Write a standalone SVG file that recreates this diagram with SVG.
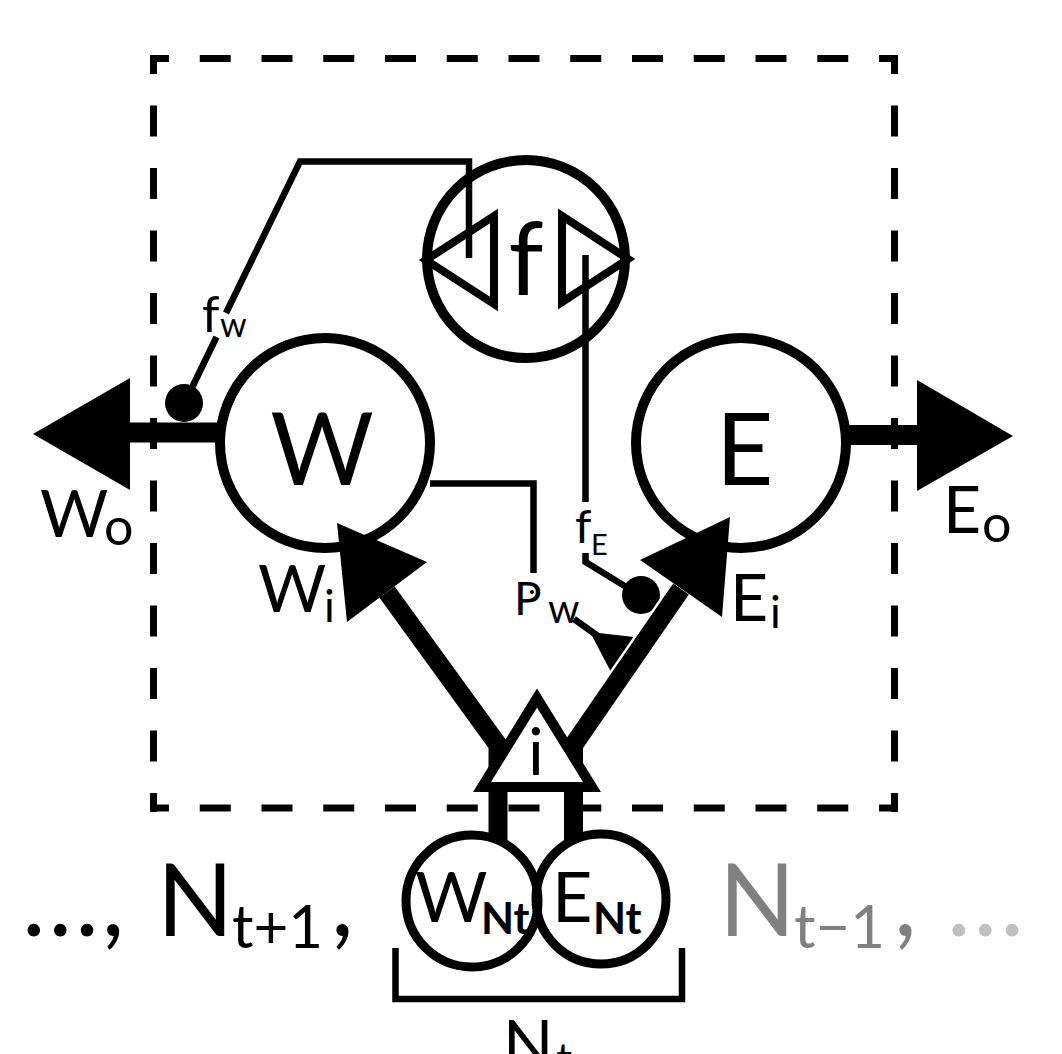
<svg xmlns="http://www.w3.org/2000/svg" width="1062" height="1054" viewBox="0 0 1062 1054">
<style>
  text { font-family: Lato, "Open Sans", "Liberation Sans", sans-serif; fill: #000; }
  .ring { fill: #fff; stroke: #000; stroke-width: 10; }
  .ring2 { fill: none; stroke: #000; stroke-width: 9; }
  .thin { fill: none; stroke: #000; stroke-width: 6.5; stroke-linejoin: miter; }
  .thick { fill: none; stroke: #000; stroke-linejoin: miter; }
  .dashH { stroke: #000; stroke-width: 7; stroke-dasharray: 31 30.75; stroke-dashoffset: 12; }
  .dashV { stroke: #000; stroke-width: 7; stroke-dasharray: 31 31.5; stroke-dashoffset: 12; }
  .head { fill: #000; }
  .bold { font-weight: bold; }
  .gray { fill: #808080; }
  .light { fill: #bfbfbf; }
</style>
<rect width="1062" height="1054" fill="#fff"/>

<g id="boundary">
  <line class="dashH" x1="150" y1="58.5" x2="898" y2="58.5"/>
  <line class="dashH" x1="150" y1="808" x2="898" y2="808"/>
  <line class="dashV" x1="153.5" y1="55" x2="153.5" y2="812"/>
  <line class="dashV" x1="894.5" y1="55" x2="894.5" y2="812"/>
</g>

<g id="node-W"><circle class="ring" cx="325" cy="443" r="105"/></g>
<g id="node-E"><circle class="ring" cx="741" cy="443" r="105"/></g>
<g id="node-f">
  <circle class="ring" cx="526" cy="259" r="99"/>
  <polygon points="426,260 494,216 494,304" fill="none" stroke="#000" stroke-width="8"/>
  <polygon points="562,216 562,302 628,259" fill="none" stroke="#000" stroke-width="8"/>
</g>

<g id="connectors">
  <!-- W_o -->
  <line x1="128" y1="432.5" x2="218" y2="432.5" stroke="#000" stroke-width="20"/>
  <polygon class="head" points="33,434 130,378 130,490"/>
  <!-- E_o -->
  <line x1="848" y1="435" x2="919" y2="435" stroke="#000" stroke-width="20"/>
  <polygon class="head" points="1013,436 917,380 917,491"/>
  <!-- f_w -->
  <polyline class="thin" points="469,258 469,161.5 300,161.5 226,313"/>
  <line class="thin" x1="216.5" y1="337" x2="186" y2="400"/>
  <circle class="head" cx="184" cy="403" r="19"/>
  <!-- f_E -->
  <line class="thin" x1="585.5" y1="255" x2="585.5" y2="502"/>
  <polyline class="thin" points="585.5,553 585.5,562 641,596"/>
  <circle class="head" cx="641" cy="595" r="19"/>
  <!-- P_w -->
  <polyline class="thin" points="430,483.5 533.5,483.5 533.5,573"/>
  <circle class="head" cx="532" cy="592" r="2"/>
  <line class="thin" x1="574" y1="619" x2="602" y2="639"/>
  <polygon class="head" points="590,632 634,637 611,672"/>
  <!-- W_i -->
  <path class="thick" d="M498,840 V745 L387,592" stroke-width="19"/>
  <polygon class="head" points="337,523 427,562 347,622"/>
  <!-- E_i -->
  <path d="M573.5,745 L681,589" fill="none" stroke="#fff" stroke-width="24"/>
  <path class="thick" d="M573.5,840 V745 L681,589" stroke-width="19"/>
  <polygon class="head" points="730,517 640,560 722,617"/>
  <!-- N_t bracket -->
  <polyline class="thin" stroke-width="7.5" points="395.5,948 395.5,999 682,999 682,948"/>
</g>

<g id="node-i">
  <polygon points="537,698 482,787 592,787" fill="#fff" stroke="#000" stroke-width="10"/>
  <text x="536" y="775" font-size="66" text-anchor="middle">i</text>
</g>
<g id="node-WNt">
  <circle class="ring2" cx="472" cy="901" r="66"/>
  <text x="415" y="922" font-size="70">W</text>
  <text x="481" y="934" font-size="43" class="bold">Nt</text>
</g>
<g id="node-ENt">
  <circle class="ring2" cx="601" cy="899" r="65"/>
  <text x="552" y="922" font-size="70">E</text>
  <text x="593" y="934" font-size="43" class="bold">Nt</text>
</g>

<g id="labels">
  <text x="322" y="485" font-size="100" text-anchor="middle">W</text>
  <text x="744.5" y="485" font-size="100" text-anchor="middle">E</text>
  <text x="526" y="295" font-size="100" text-anchor="middle">f</text>

  <text x="202" y="332" font-size="50">f</text>
  <text x="220" y="337" font-size="34">w</text>

  <text x="40" y="537" font-size="66">W</text>
  <text x="104" y="545" font-size="52">o</text>

  <text x="943" y="533" font-size="66">E</text>
  <text x="982" y="542" font-size="52">o</text>

  <text x="258" y="612" font-size="66">W</text>
  <text x="324" y="622" font-size="45">i</text>

  <text x="730" y="621" font-size="66">E</text>
  <text x="770" y="628" font-size="45">i</text>

  <text x="514" y="615" font-size="46">P</text>
  <text x="548" y="623" font-size="40">w</text>

  <text x="575" y="543" font-size="47">f</text>
  <text x="591" y="555" font-size="29">E</text>

  <text x="22" y="936" font-size="100" letter-spacing="3">...,</text>
  <text x="157" y="936" font-size="100">N</text>
  <text x="232" y="948" font-size="60">t+1</text>
  <text x="331" y="936" font-size="100">,</text>

  <text x="719" y="936" font-size="100" class="gray">N</text>
  <text x="794" y="948" font-size="60" class="gray">t−1</text>
  <text x="894" y="936" font-size="100" class="gray">,</text>
  <text x="947" y="936" font-size="100" letter-spacing="3" class="light">...</text>

  <text x="503" y="1067" font-size="66">N</text>
  <text x="556" y="1075" font-size="45">t</text>
</g>
</svg>
